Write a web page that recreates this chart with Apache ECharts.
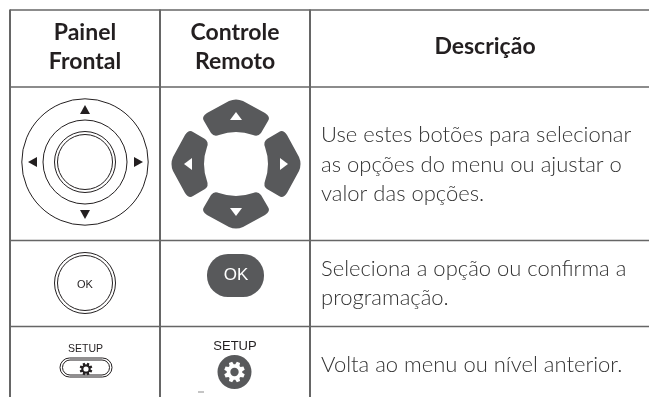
<!DOCTYPE html>
<html><head><meta charset="utf-8">
<style>html,body{margin:0;padding:0;background:#fff}#c{width:649px;height:397px}</style>
<script src="https://cdn.jsdelivr.net/npm/echarts@6/dist/echarts.min.js"></script>
</head><body><div id="c"></div>
<script>
const columnHeaders = [["Painel","Frontal"],["Controle","Remoto"],["Descrição"]];
const descriptionRows = [
  ["Use estes botões para selecionar","as opções do menu ou ajustar o","valor das opções."],
  ["Seleciona a opção ou confirma a","programação."],
  ["Volta ao menu ou nível anterior."]
];
const okLabel = "OK";
const setupLabel = "SETUP";

const INK='#231f20', BTN='#58595b', RULE='#666666', TXT='#333333';
const g=[];
function line(x1,y1,x2,y2,w){g.push({type:'line',shape:{x1,y1,x2,y2},style:{stroke:RULE,lineWidth:w}});}
function ring(cx,cy,r,w){g.push({type:'circle',shape:{cx,cy,r},style:{fill:'none',stroke:INK,lineWidth:w}});}
function poly(points,fill){g.push({type:'polygon',shape:{points},style:{fill}});}
function label(text,x,y,font,fill,align){g.push({type:'text',x,y,style:{text,font,fill,align:align||'center',verticalAlign:'middle'}});}

/* rules */
line(10,10,649,10,1.5); line(10,87,649,87,1.5); line(10,240.5,649,240.5,1.5); line(10,326.5,649,326.5,1.5);
line(10,9.5,10,397,2); line(160,9.5,160,397,2); line(310,9.5,310,397,2);

/* headers */
const HEAD='700 23px "Lato"';
label(columnHeaders[0][0],85,33,HEAD,INK); label(columnHeaders[0][1],85,62,HEAD,INK);
label(columnHeaders[1][0],235,33,HEAD,INK); label(columnHeaders[1][1],235,62,HEAD,INK);
label(columnHeaders[2][0],485,47,HEAD,INK);

/* descriptions */
const BODY='300 22px "Lato"';
const rowYs=[[135,164.5,194],[269,298],[365]];
descriptionRows.forEach((r,i)=>r.forEach((t,j)=>label(t,321,rowYs[i][j],BODY,TXT,'left')));

/* front panel d-pad */
const cx=85,cy=162;
ring(cx,cy,63.2,1); ring(cx,cy,42,1); ring(cx,cy,30.5,1); ring(cx,cy,27.5,1);
poly([[cx,105],[cx+5,114],[cx-5,114]],INK);
poly([[cx,219],[cx+5,210],[cx-5,210]],INK);
poly([[28,162],[37,157],[37,167]],INK);
poly([[143,162],[134,157],[134,167]],INK);

/* remote d-pad */
const rx=236,ry=164;
echarts.graphic.registerShape('petal',echarts.graphic.extendPath('M-7,-63 Q0,-66 7,-63 L29,-51 Q35,-47 32,-43 L25,-31 Q22,-27 17,-29 Q0,-35 -17,-29 Q-22,-27 -25,-31 L-32,-43 Q-35,-47 -29,-51 Z',{}));
[0,90,180,270].forEach(deg=>{
  const a=-deg*Math.PI/180;
  g.push({type:'petal',x:rx,y:ry,rotation:a,style:{fill:BTN}});
  g.push({type:'polygon',x:rx,y:ry,rotation:a,shape:{points:[[0,-52],[6,-44],[-6,-44]]},style:{fill:'#fff'}});
});

/* OK row */
ring(85,283,30.5,1); ring(85,283,27.5,1);
label(okLabel,85,284.5,'11px "Liberation Sans"',INK);
g.push({type:'rect',shape:{x:207,y:254,width:57,height:43,r:21},style:{fill:BTN}});
label(okLabel,236,275.5,'17px "Liberation Sans"','#fff');

/* setup row */
function gear(x,y,ro,ri,hole,fill,holeFill){
  const pts=[],n=8,d=Math.PI/n;
  for(let i=0;i<n;i++){
    const c=i*2*Math.PI/n+d;
    [[ri,-0.75*d],[ro,-0.42*d],[ro,0.42*d],[ri,0.75*d]].forEach(([r,o])=>pts.push([x+r*Math.cos(c+o),y+r*Math.sin(c+o)]));
  }
  poly(pts,fill);
  g.push({type:'circle',shape:{cx:x,cy:y,r:hole},style:{fill:holeFill}});
}
label(setupLabel,85.5,349.5,'10.5px "Liberation Sans"',INK);
g.push({type:'rect',shape:{x:60,y:358,width:52,height:19,r:9.5},style:{fill:'none',stroke:INK,lineWidth:1}});
g.push({type:'rect',shape:{x:62.5,y:360,width:47,height:15,r:7.5},style:{fill:'none',stroke:INK,lineWidth:1}});
gear(86,369,6.5,4.6,2.6,INK,'#fff');
label(setupLabel,235,346.5,'13px "Liberation Sans"',INK);
g.push({type:'circle',shape:{cx:234.5,cy:372,r:17},style:{fill:BTN}});
gear(234.5,372,10.5,7.8,4.2,'#fff',BTN);
g.push({type:'rect',shape:{x:198,y:391.5,width:6,height:1},style:{fill:'#8a8a8a'}});

const chart=echarts.init(document.getElementById('c'),null,{renderer:'canvas'});
chart.setOption({animation:false,backgroundColor:'#fff',graphic:{elements:g}});
</script></body></html>
